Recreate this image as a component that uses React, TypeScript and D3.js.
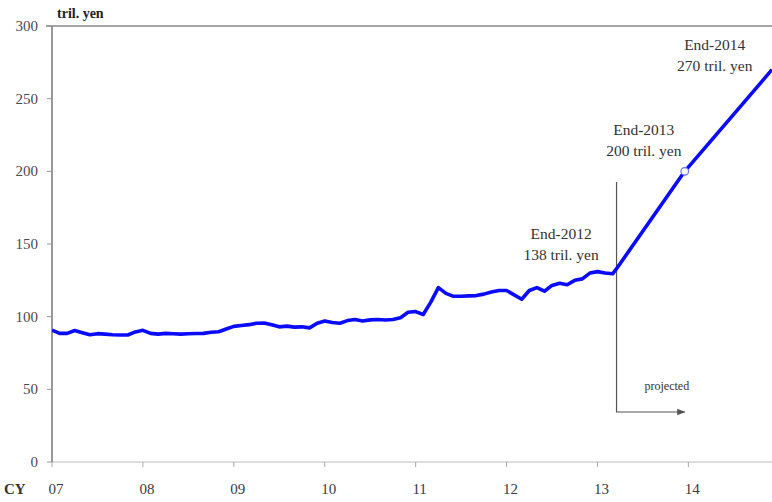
import React, { useEffect, useRef } from 'react';
import * as d3 from 'd3';

// Monthly monetary base, Jan 2007 .. Mar 2013 (tril. yen)
const actualValues = [
  90.8, 88.5, 88.5, 90.5, 89, 87.6, 88.3, 88, 87.6, 87.4, 87.4, 89.5,
  90.6, 88.5, 88, 88.5, 88.2, 88, 88.2, 88.4, 88.5, 89.3, 89.6, 91.5,
  93.3, 93.9, 94.5, 95.5, 95.6, 94.5, 93, 93.5, 92.8, 93, 92.3, 95.5,
  97, 96, 95.5, 97.3, 98, 97, 97.8, 98, 97.7, 98, 99.3, 103,
  103.5, 101.5, 110, 120, 116, 114, 114, 114.3, 114.5, 115.5, 117, 118,
  118, 115, 112, 118, 120, 117.5, 121.5, 123, 122, 125, 126, 130,
  131, 130, 129.5,
];
const startYear = 2007;

// Projection path (decimal year, value)
const projYears = [2013.21, 2013.96, 2014.92];
const projValues = [133, 200, 270];

const yTicks = [0, 50, 100, 150, 200, 250, 300];
const xTickYears = [2007, 2008, 2009, 2010, 2011, 2012, 2013, 2014];
const xTickLabels = ['07', '08', '09', '10', '11', '12', '13', '14'];

const annotations = [
  { t: 2012.6, v: 138, lines: ['End-2012', '138 tril. yen'], dy: -22 },
  { t: 2013.51, v: 200, lines: ['End-2013', '200 tril. yen'], dy: -36 },
  { t: 2014.29, v: 270, lines: ['End-2014', '270 tril. yen'], dy: -20 },
];

const W = 772;
const H = 502;
const serif = "'Liberation Serif'";

const App: React.FC = () => {
  const svgRef = useRef<SVGSVGElement>(null);

  useEffect(() => {
    if (!svgRef.current) return;
    const svg = d3.select(svgRef.current);
    svg.selectAll('*').remove();

    const left = 52, right = 772, top = 26, bottom = 462;

    const x = d3.scaleLinear().domain([2007, 2014.92]).range([left, right]);
    const y = d3.scaleLinear().domain([0, 300]).range([bottom, top]);

    const series: [number, number][] = actualValues.map((v, i) => [startYear + i / 12, v]);
    projYears.forEach((t, i) => series.push([t, projValues[i]]));

    const defs = svg.append('defs');
    defs.append('clipPath').attr('id', 'plot-clip')
      .append('rect').attr('x', left).attr('y', top - 5).attr('width', right - left).attr('height', bottom - top + 10);

    defs.append('marker')
      .attr('id', 'arrow')
      .attr('viewBox', '0 0 10 10')
      .attr('refX', 9).attr('refY', 5)
      .attr('markerWidth', 7).attr('markerHeight', 7)
      .attr('orient', 'auto')
      .append('path').attr('d', 'M0,1 L10,5 L0,9 Z').attr('fill', '#555');

    // Frame
    svg.append('line').attr('x1', left - 6).attr('x2', right).attr('y1', top).attr('y2', top)
      .attr('stroke', '#888').attr('stroke-width', 1.5);
    svg.append('line').attr('x1', left).attr('x2', right).attr('y1', bottom).attr('y2', bottom)
      .attr('stroke', '#bbb').attr('stroke-width', 1.2);
    svg.append('line').attr('x1', left).attr('x2', left).attr('y1', top).attr('y2', bottom)
      .attr('stroke', '#777').attr('stroke-width', 1.5);

    // Y ticks
    yTicks.forEach(v => {
      svg.append('line').attr('x1', left - 5).attr('x2', left).attr('y1', y(v)).attr('y2', y(v))
        .attr('stroke', '#999').attr('stroke-width', 1);
      svg.append('text').attr('x', 38).attr('y', y(v) + 5).attr('text-anchor', 'end')
        .style('font-family', serif).attr('font-size', 15).attr('fill', '#4a4a55').text(v);
    });

    // X ticks
    xTickYears.forEach((t, i) => {
      svg.append('line').attr('x1', x(t)).attr('x2', x(t)).attr('y1', bottom).attr('y2', bottom + 5)
        .attr('stroke', '#aaa').attr('stroke-width', 1);
      svg.append('text').attr('x', x(t) + 4).attr('y', 494).attr('text-anchor', 'middle')
        .style('font-family', serif).attr('font-size', 15).attr('fill', '#3a3a45').text(xTickLabels[i]);
    });
    svg.append('text').attr('x', 4).attr('y', 494)
      .style('font-family', serif).attr('font-size', 15).attr('font-weight', 'bold').attr('fill', '#333').text('CY');

    svg.append('text').attr('x', 57).attr('y', 18)
      .style('font-family', serif).attr('font-size', 14).attr('font-weight', 'bold').attr('fill', '#222').text('tril. yen');

    // Projection marker
    const px = x(projYears[0]);
    svg.append('path')
      .attr('d', `M${px},182 L${px},412 L${x(2013.96)},412`)
      .attr('fill', 'none').attr('stroke', '#555').attr('stroke-width', 1.2)
      .attr('marker-end', 'url(#arrow)');
    svg.append('text').attr('x', px + 28).attr('y', 390)
      .style('font-family', serif).attr('font-size', 12).attr('fill', '#333').text('projected');

    // Main line
    const line = d3.line<[number, number]>().x(d => x(d[0])).y(d => y(d[1]));
    svg.append('path')
      .datum(series)
      .attr('clip-path', 'url(#plot-clip)')
      .attr('fill', 'none').attr('stroke', '#0a0aff').attr('stroke-width', 3.6)
      .attr('stroke-linejoin', 'round')
      .attr('d', line);

    svg.append('circle').attr('cx', x(projYears[1])).attr('cy', y(projValues[1])).attr('r', 3.8)
      .attr('fill', '#fff').attr('stroke', '#6a6aff').attr('stroke-width', 1.2);

    // Annotations
    annotations.forEach(a => {
      const g = svg.append('text').attr('text-anchor', 'middle')
        .style('font-family', serif).attr('font-size', 15.5).attr('fill', '#333');
      a.lines.forEach((l, i) => {
        g.append('tspan').attr('x', x(a.t)).attr('y', y(a.v) + a.dy + i * 21).text(l);
      });
    });
  }, []);

  return (
    <svg ref={svgRef} width={W} height={H}
      style={{ position: 'absolute', left: 0, top: 0, background: '#fff' }} />
  );
};

export default App;
